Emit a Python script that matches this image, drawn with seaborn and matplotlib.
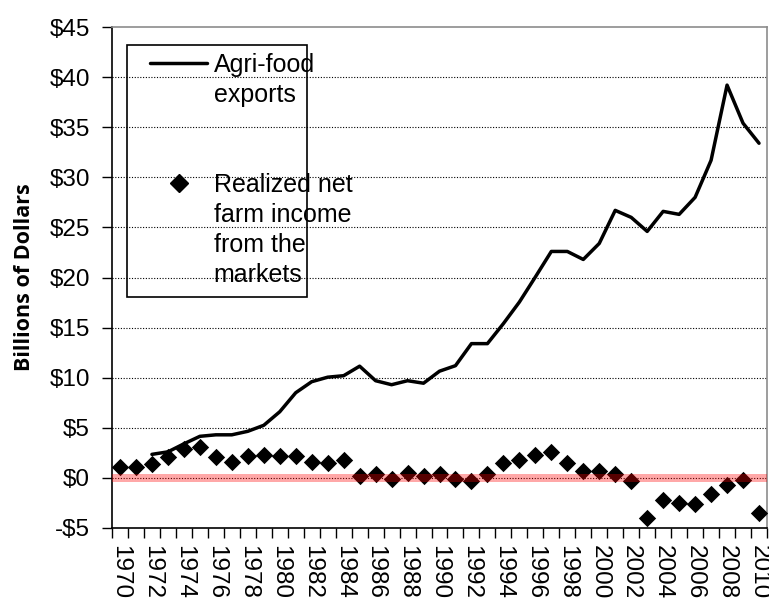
import matplotlib
matplotlib.use("Agg")
import numpy as np
import pandas as pd
import matplotlib.pyplot as plt
import seaborn as sns
from matplotlib.lines import Line2D
from matplotlib.patches import Rectangle
from matplotlib.ticker import FuncFormatter

# --- data (billions of dollars) ---
years = list(range(1970, 2011))
agri_food_exports = [np.nan, np.nan, 2.35, 2.6, 3.4, 4.15, 4.3, 4.3, 4.65, 5.25,
                     6.6, 8.5, 9.6, 10.05, 10.2, 11.15, 9.7, 9.3, 9.7, 9.45,
                     10.65, 11.2, 13.4, 13.4, 15.4, 17.55, 20.05, 22.6, 22.6, 21.8,
                     23.4, 26.7, 26.0, 24.6, 26.6, 26.3, 28.0, 31.7, 39.2, 35.4,
                     33.4]
net_farm_income = [1.08, 1.08, 1.4, 2.1, 2.9, 3.07, 2.1, 1.6, 2.15, 2.25,
                   2.15, 2.15, 1.6, 1.5, 1.8, 0.15, 0.35, -0.1, 0.5, 0.15,
                   0.35, -0.1, -0.3, 0.35, 1.5, 1.8, 2.3, 2.6, 1.5, 0.7,
                   0.7, 0.35, -0.3, -3.97, -2.18, -2.5, -2.65, -1.6, -0.75, -0.25,
                   -3.5]
legend_lines = ["Agri-food", "exports", "", "",
                "Realized net", "farm income", "from the", "markets"]
y_ticks = list(range(-5, 50, 5))
x_label_years = list(range(1970, 2011, 2))

df = pd.DataFrame({"year": years, "exports": agri_food_exports,
                   "income": net_farm_income})

sns.set_style("ticks")
plt.rcParams["font.family"] = ["Liberation Sans", "DejaVu Sans"]
plt.rcParams["text.color"] = "black"
plt.rcParams["xtick.color"] = "black"
plt.rcParams["ytick.color"] = "black"
plt.rcParams["axes.labelcolor"] = "black"

fig = plt.figure(figsize=(7.69, 6.09), dpi=100)
ax = fig.add_axes([112 / 769, 81 / 609, 655 / 769, 501 / 609])

# gridlines
for v in y_ticks[1:-1]:
    ax.axhline(v, color="black", lw=0.8, ls=(0, (1, 1.5)), zorder=1)

sns.lineplot(data=df, x="year", y="exports", color="black", lw=2.5,
             ax=ax, zorder=3)
sns.scatterplot(data=df, x="year", y="income", marker="D", s=78,
                color="black", linewidth=0, ax=ax, zorder=4)

# translucent red band around zero (drawn over the markers)
ax.axhspan(-0.45, 0.35, color="#ff0000", alpha=0.34, lw=0, zorder=5)

ax.set_xlim(1969.5, 2010.5)
ax.set_ylim(-5, 45)
ax.set_yticks(y_ticks)
ax.yaxis.set_major_formatter(FuncFormatter(
    lambda v, p: f"-${abs(int(v))}" if v < 0 else f"${int(v)}"))
ax.tick_params(axis="y", labelsize=17.5, length=7, width=1, pad=9,
               direction="out", color="black", labelcolor="black")

ax.set_xticks(x_label_years)
ax.set_xticklabels([str(y) for y in x_label_years], rotation=-90,
                   fontsize=17.5, va="top", ha="center")
ax.set_xticks(np.arange(1969.5, 2011, 1), minor=True)
ax.tick_params(axis="x", which="major", length=0, pad=12, labelcolor="black")
ax.tick_params(axis="x", which="minor", length=7, width=1, direction="out",
               color="black")

ax.set_xlabel("")
ax.set_ylabel("Billions of Dollars", fontsize=15.5, fontweight="bold",
              family=["Open Sans", "DejaVu Sans"], labelpad=10, color="black")

for side in ["left", "bottom"]:
    ax.spines[side].set_color("black")
    ax.spines[side].set_linewidth(1.2)
for side in ["top", "right"]:
    ax.spines[side].set_visible(True)
    ax.spines[side].set_color("#8c8c8c")
    ax.spines[side].set_linewidth(1.2)

# legend with Excel-like top-aligned handles
line_h = Line2D([], [], color="black", lw=2.5)
dia_h = Line2D([], [], color="black", marker="D", ms=8.8, ls="none")
blank = Line2D([], [], ls="none")
handles = [line_h, blank, blank, blank, dia_h, blank, blank, blank]
leg = ax.legend(handles, legend_lines, loc="upper left",
                bbox_to_anchor=(0.058, 0.949), frameon=False, fontsize=18,
                borderpad=0, borderaxespad=0, labelspacing=0.24,
                handlelength=2.3, handletextpad=0.25)
for t in leg.get_texts():
    t.set_color("black")
leg.set_zorder(6)
ax.add_patch(Rectangle((0.0229, 0.461), 0.2748, 0.503, transform=ax.transAxes,
                       fill=False, edgecolor="black", lw=1.2, zorder=6))

fig.savefig("out.png", dpi=100)
